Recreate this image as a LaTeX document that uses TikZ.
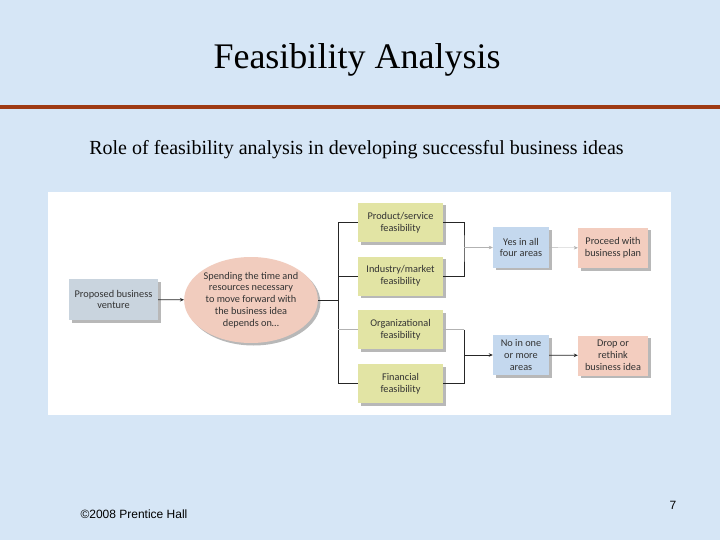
\documentclass[tikz,border=0pt]{standalone}
\usepackage{fontspec}
\setmainfont{Liberation Serif}
\newfontfamily\boxfont{Carlito}
\newfontfamily\footfont{Liberation Sans}
\usetikzlibrary{shapes.geometric, arrows.meta, positioning, calc}

\definecolor{slidebg}{RGB}{214,230,246}
\definecolor{rulered}{RGB}{158,58,20}
\definecolor{ventgray}{RGB}{201,212,222}
\definecolor{ellpink}{RGB}{241,204,190}
\definecolor{feasgreen}{RGB}{226,228,164}
\definecolor{areablue}{RGB}{196,216,238}
\definecolor{outpink}{RGB}{243,205,191}

\tikzset{
  flowbox/.style={font={\boxfont\fontsize{10.3}{11.8}\selectfont}, text=black!80,
    align=center, inner sep=0pt,
    preaction={fill=black!28, transform canvas={shift={(2.5pt,-2.5pt)}}}},
  feasbox/.style={flowbox, fill=feasgreen, minimum width=85pt, minimum height=39pt},
  areabox/.style={flowbox, fill=areablue, minimum width=56pt, minimum height=40pt},
  outbox/.style={flowbox, fill=outpink, minimum width=70pt, minimum height=40pt},
  wire/.style={line width=0.8pt, black!85},
  faintwire/.style={line width=0.4pt, gray!60},
  arr/.style={-{Stealth[length=4pt,width=3.5pt]}}
}

\begin{document}
\begin{tikzpicture}[x=1pt, y=-1pt]
\fill[slidebg] (0,0) rectangle (720,540);
\useasboundingbox (0,0) rectangle (720,540);
% slide heading
\node (title) at (357,60) {\fontsize{36}{40}\selectfont Feasibility Analysis};
\fill[rulered] (0,105) rectangle (720,109);
\node (subtitle) at (356.5,150) {\fontsize{20}{24}\selectfont Role of feasibility analysis in developing successful business ideas};
\fill[white] (48,192) rectangle (671,415);
% left part
\node[flowbox, fill=ventgray, minimum width=89pt, minimum height=41pt] (venture) at (113.5,299.5) {Proposed business\\venture};
\node[flowbox, ellipse, fill=ellpink, minimum width=132pt, minimum height=86pt] (depends) at (251,300)
  {Spending the time and\\resources necessary\\to move forward with\\the business idea\\depends on\dots};
\draw[wire, arr] (venture) -- (depends);
% four feasibility areas
\node[feasbox] (product) at (400.5,222.5) {Product/service\\feasibility};
\node[feasbox] (industry) at (400.5,276) {Industry/market\\feasibility};
\node[feasbox] (organ) at (400.5,329.5) {Organizational\\feasibility};
\node[feasbox] (finance) at (400.5,383.5) {Financial\\feasibility};
\coordinate (trunk) at (338,300);
\draw[wire] (depends.east) -- (trunk);
\draw[wire] (product.west) -| (trunk);
\draw[wire] (finance.west) -| (trunk);
\draw[wire] (industry.west) -- (industry.west -| trunk);
\draw[faintwire] (organ.west) -- (organ.west -| trunk);
% outcomes
\node[areabox] (yesall) at (521,247.5) {Yes in all\\four areas};
\node[areabox] (noone) at (521,355) {No in one\\or more\\areas};
\node[outbox] (proceed) at (613,248) {Proceed with\\business plan};
\node[outbox] (rethink) at (613,355.5) {Drop or\\rethink\\business idea};
\coordinate (yesjoin) at (464,247.5);
\coordinate (nojoin) at (464,355);
\draw[wire] (product.east) -| (yesjoin) |- (industry.east);
\draw[faintwire] (organ.east) -- (organ.east -| nojoin);
\draw[wire] (organ.east -| nojoin) |- (finance.east);
\draw[faintwire, arr] (yesjoin) -- (yesall);
\draw[wire, arr] (nojoin) -- (noone);
\draw[faintwire, arr] (yesall) -- (proceed);
\draw[wire, arr] (noone) -- (rethink);
% footer
\node[anchor=base west] (copy) at (77,518) {\footfont\fontsize{12}{14}\selectfont \textcopyright2008 Prentice Hall};
\node[anchor=base] (pagenum) at (673,509) {\footfont\fontsize{12}{14}\selectfont 7};
\end{tikzpicture}
\end{document}
